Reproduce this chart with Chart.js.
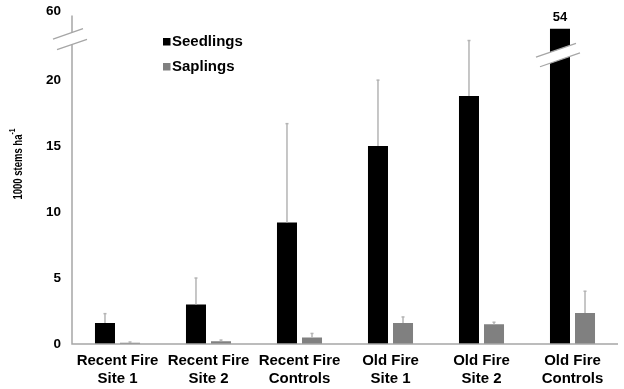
<!DOCTYPE html>
<html>
<head>
<meta charset="utf-8">
<script src="https://cdn.jsdelivr.net/npm/chart.js@4/dist/chart.umd.min.js"></script>
<style>
  html, body { margin: 0; padding: 0; background: #ffffff; }
  #wrap { position: relative; width: 624px; height: 389px; }
</style>
</head>
<body>
<div id="wrap"><canvas id="c" width="624" height="389"></canvas></div>
<script>
// ---- data (1000 stems per ha) ----
const categories = [
  ['Recent Fire', 'Site 1'],
  ['Recent Fire', 'Site 2'],
  ['Recent Fire', 'Controls'],
  ['Old Fire', 'Site 1'],
  ['Old Fire', 'Site 2'],
  ['Old Fire', 'Controls']
];
const seedlings      = [1.6, 3.0, 9.2, 15.0, 18.8, 54];
const seedlingsError = [0.7, 2.0, 7.5, 5.0, 4.2, null];   // upper error (added to the mean)
const saplings       = [0.1, 0.2, 0.5, 1.6, 1.5, 2.35];
const saplingsError  = [0.05, 0.1, 0.3, 0.45, 0.15, 1.65];
const yTickValues = [0, 5, 10, 15, 20];
const breakTickLabel = '60';   // label of the top of the broken axis

// broken axis: the linear part runs to axisTop; bars above it are cut at barCap
const axisTop = 25.2;
const barCap = 23.9;
const clip = v => Math.min(v, barCap);

const AXIS_GRAY = '#a6a6a6';
const ERR_GRAY = '#b4b4b4';
const FONT = '"Liberation Sans", Arial, sans-serif';

const overlay = {
  id: 'overlay',
  afterDatasetsDraw(chart) {
    const ctx = chart.ctx;
    const x = chart.scales.x, y = chart.scales.y;
    const area = chart.chartArea;
    ctx.save();
    // error bars
    const errs = [seedlingsError, saplingsError];
    const vals = [seedlings, saplings];
    [0, 1].forEach(di => {
      const meta = chart.getDatasetMeta(di);
      meta.data.forEach((bar, i) => {
        const e = errs[di][i];
        if (e == null) return;
        const top = y.getPixelForValue(vals[di][i] + e);
        ctx.strokeStyle = ERR_GRAY;
        ctx.lineWidth = 1.5;
        ctx.beginPath();
        ctx.moveTo(bar.x, bar.y);
        ctx.lineTo(bar.x, top);
        ctx.stroke();
        ctx.beginPath();
        ctx.moveTo(bar.x - 1.5, top);
        ctx.lineTo(bar.x + 1.5, top);
        ctx.stroke();
      });
    });
    // axes
    const x0 = area.left, yb = y.getPixelForValue(0);
    ctx.strokeStyle = AXIS_GRAY;
    ctx.lineWidth = 1.5;
    ctx.beginPath();
    ctx.moveTo(x0, area.top + 4);
    ctx.lineTo(x0, yb);
    ctx.lineTo(area.right, yb);
    ctx.stroke();
    // break marks helper
    function breakMark(cx, cy, left, right, gap) {
      const s = 1 / 2.9; // slope
      ctx.fillStyle = '#ffffff';
      ctx.beginPath();
      ctx.moveTo(cx - left, cy - gap / 2 + left * s);
      ctx.lineTo(cx + right, cy - gap / 2 - right * s);
      ctx.lineTo(cx + right + 4, cy + gap / 2 - (right + 4) * s);
      ctx.lineTo(cx - left + 4, cy + gap / 2 + (left - 4) * s);
      ctx.closePath();
      ctx.fill();
      ctx.strokeStyle = AXIS_GRAY;
      ctx.lineWidth = 1.3;
      ctx.beginPath();
      ctx.moveTo(cx - left, cy - gap / 2 + left * s);
      ctx.lineTo(cx + right, cy - gap / 2 - right * s);
      ctx.moveTo(cx - left + 4, cy + gap / 2 + (left - 4) * s);
      ctx.lineTo(cx + right + 4, cy + gap / 2 - (right + 4) * s);
      ctx.stroke();
    }
    // axis break
    breakMark(x0 - 2, y.getPixelForValue(23.1), 17, 13, 12);
    // bar break on the clipped bar(s)
    const meta0 = chart.getDatasetMeta(0);
    seedlings.forEach((v, i) => {
      if (v > barCap) {
        const bar = meta0.data[i];
        breakMark(bar.x - 2, y.getPixelForValue(21.9), 22, 18, 11);
        ctx.fillStyle = '#000';
        ctx.font = 'bold 13px ' + FONT;
        ctx.textAlign = 'center';
        ctx.textBaseline = 'middle';
        ctx.fillText(String(v), bar.x, bar.y - 11);
      }
    });
    // legend
    const items = [['Seedlings', '#000000'], ['Saplings', '#808080']];
    items.forEach((it, k) => {
      const ly = 42 + k * 25;
      ctx.fillStyle = it[1];
      ctx.fillRect(163, ly - 4, 7.5, 7.5);
      ctx.fillStyle = '#000';
      ctx.font = 'bold 15px ' + FONT;
      ctx.textAlign = 'left';
      ctx.textBaseline = 'middle';
      ctx.fillText(it[0], 172, ly);
    });
    // y title with superscript (fitted to the reference length)
    ctx.translate(19, 164);
    ctx.rotate(-Math.PI / 2);
    ctx.fillStyle = '#000';
    ctx.textBaseline = 'middle';
    ctx.textAlign = 'left';
    const main = '1000 stems ha';
    ctx.font = 'bold 12.5px ' + FONT;
    const w = ctx.measureText(main).width;
    ctx.font = 'bold 9px ' + FONT;
    const w2 = ctx.measureText('-1').width;
    const sx = 71 / (w + w2);
    ctx.scale(sx, 1);
    const start = -(w + w2) / 2;
    ctx.font = 'bold 12.5px ' + FONT;
    ctx.fillText(main, start, 0);
    ctx.font = 'bold 9px ' + FONT;
    ctx.fillText('-1', start + w, -6);
    ctx.restore();
  }
};

new Chart(document.getElementById('c'), {
  type: 'bar',
  data: {
    labels: categories,
    datasets: [
      { label: 'Seedlings', data: seedlings.map(clip), backgroundColor: '#000000',
        categoryPercentage: 0.55, barPercentage: 0.8 },
      { label: 'Saplings', data: saplings.map(clip), backgroundColor: '#808080',
        categoryPercentage: 0.55, barPercentage: 0.8 }
    ]
  },
  options: {
    responsive: false,
    animation: false,
    devicePixelRatio: 1,
    layout: { padding: { left: 0, right: 6, top: 11.5, bottom: 0 } },
    plugins: { legend: { display: false }, tooltip: { enabled: false } },
    scales: {
      x: {
        grid: { display: false, drawTicks: false },
        border: { display: false },
        ticks: { color: '#000', font: { family: FONT, size: 15, weight: 'bold' },
                 padding: 8, maxRotation: 0, autoSkip: false },
        afterFit(s) { s.height = 45; s.paddingLeft = 0; s.paddingRight = 0; }
      },
      y: {
        min: 0, max: axisTop,
        grid: { display: false, drawTicks: false },
        border: { display: false },
        afterBuildTicks(s) {
          s.ticks = yTickValues.map(v => ({ value: v })).concat([{ value: axisTop }]);
        },
        ticks: {
          color: '#000', font: { family: FONT, size: 13.5, weight: 'bold' }, padding: 11,
          callback: v => (v === axisTop ? breakTickLabel : String(v))
        },
        afterFit(s) { s.width = 72; s.paddingTop = 0; s.paddingBottom = 0; }
      }
    }
  },
  plugins: [overlay]
});
</script>
</body>
</html>
